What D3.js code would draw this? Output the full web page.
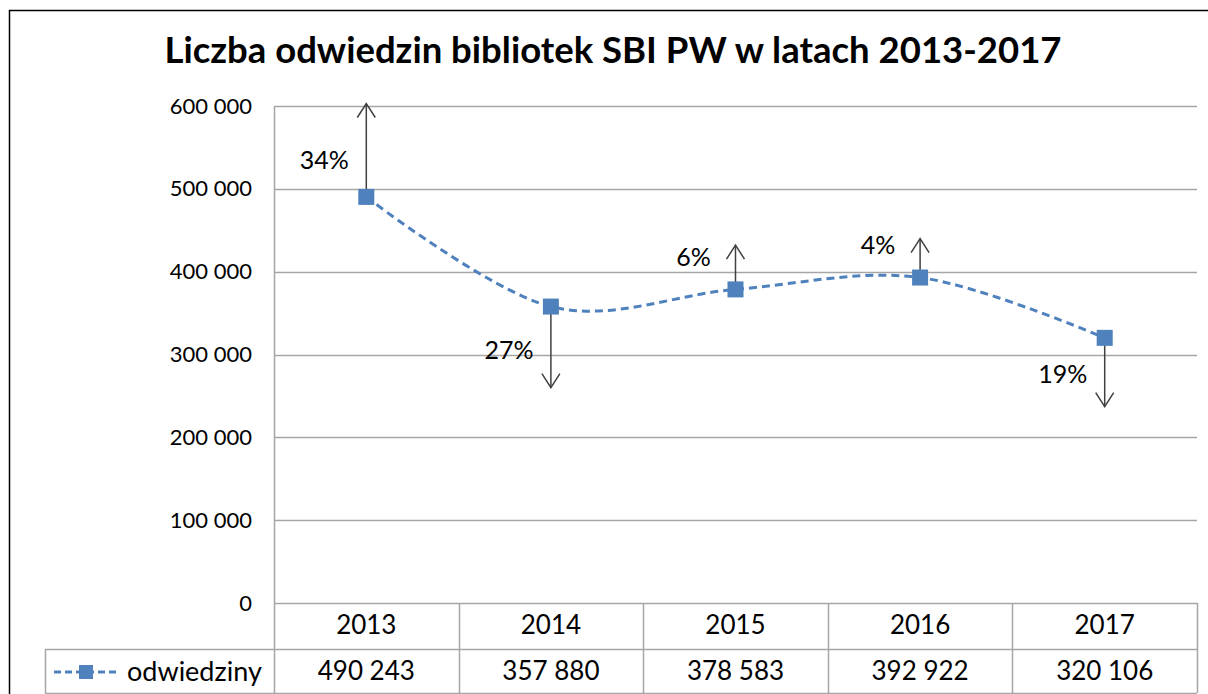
<!DOCTYPE html>
<html>
<head>
<meta charset="utf-8">
<script src="https://cdn.jsdelivr.net/npm/d3@7"></script>
<style>
  html, body { margin: 0; padding: 0; background: #fff; }
  svg { display: block; }
  text { font-family: Lato, "Open Sans", sans-serif; fill: #000; }
</style>
</head>
<body>
<svg id="chart" width="1208" height="694"></svg>
<script>
// ---- data ----
const title = "Liczba odwiedzin bibliotek SBI PW w latach 2013-2017";
const seriesName = "odwiedziny";
const years = ["2013", "2014", "2015", "2016", "2017"];
const visits = [490243, 357880, 378583, 392922, 320106];
const changeLabels = ["34%", "27%", "6%", "4%", "19%"];
const arrowEnds = [603000, 260000, 432000, 440000, 237000];
const yTicks = [0, 100000, 200000, 300000, 400000, 500000, 600000];

// ---- layout ----
const W = 1208, H = 694;
const plot = { left: 274, right: 1197, top: 106, bottom: 603 };
const table = { left: 45, row1: 649, bottom: 693 };
const blue = "#4F81BD", grid = "#A6A6A6", arrowCol = "#404040";
const labelNudge = [10, 3, -10, -13, 2];

const svg = d3.select("#chart");
const fmt = d3.formatLocale({ decimal: ",", thousands: "\u00a0", grouping: [3], currency: ["", ""] }).format(",d");

// outer frame
svg.append("rect").attr("x", 9.5).attr("y", 10.5).attr("width", 1220).attr("height", 720)
  .attr("fill", "none").attr("stroke", "#000").attr("stroke-width", 1.5);

// title
svg.append("text").attr("x", 613).attr("y", 63).attr("text-anchor", "middle")
  .attr("font-size", 36.5).attr("font-weight", "bold").text(title);

const x = d3.scaleBand().domain(years).range([plot.left, plot.right]).padding(0);
const y = d3.scaleLinear().domain([0, 600000]).range([plot.bottom, plot.top]);
const cx = d => x(d) + x.bandwidth() / 2;

// gridlines
svg.append("g").selectAll("line").data(yTicks).join("line")
  .attr("x1", plot.left).attr("x2", plot.right)
  .attr("y1", d => Math.round(y(d)) + 0.5).attr("y2", d => Math.round(y(d)) + 0.5)
  .attr("stroke", grid).attr("stroke-width", 1.5);

// y axis via d3.axisLeft (labels only)
const yAxis = svg.append("g").attr("transform", `translate(${plot.left},0)`)
  .call(d3.axisLeft(y).tickValues(yTicks).tickFormat(d => fmt(d)).tickSize(0).tickPadding(22));
yAxis.select(".domain").remove();
yAxis.selectAll("text").attr("font-size", 22).attr("font-family", "Lato, sans-serif").attr("fill", "#000");

// vertical axis line (through table)
svg.append("line").attr("x1", plot.left + 0.5).attr("x2", plot.left + 0.5)
  .attr("y1", plot.top).attr("y2", table.bottom).attr("stroke", grid).attr("stroke-width", 1.5);

// data table
const tg = svg.append("g");
const bounds = years.map(d => x(d)).concat([plot.right]);
tg.selectAll("line.v").data(bounds.slice(1)).join("line")
  .attr("x1", d => Math.round(d) + 0.5).attr("x2", d => Math.round(d) + 0.5)
  .attr("y1", plot.bottom).attr("y2", table.bottom).attr("stroke", grid).attr("stroke-width", 1.5);
tg.append("line").attr("x1", table.left + 0.5).attr("x2", table.left + 0.5)
  .attr("y1", table.row1).attr("y2", table.bottom).attr("stroke", grid).attr("stroke-width", 1.5);
[table.row1, table.bottom].forEach(yy => {
  tg.append("line").attr("x1", table.left).attr("x2", plot.right)
    .attr("y1", yy + 0.5).attr("y2", yy + 0.5).attr("stroke", grid).attr("stroke-width", 1.5);
});
tg.selectAll("text.yr").data(years).join("text").attr("class", "yr")
  .attr("x", d => cx(d)).attr("y", 634).attr("text-anchor", "middle").attr("font-size", 26).text(d => d);
tg.selectAll("text.val").data(visits).join("text").attr("class", "val")
  .attr("x", (d, i) => cx(years[i])).attr("y", 680).attr("text-anchor", "middle").attr("font-size", 26).text(d => fmt(d));

// legend key in table
tg.append("line").attr("x1", 54).attr("x2", 117).attr("y1", 672).attr("y2", 672)
  .attr("stroke", blue).attr("stroke-width", 3).attr("stroke-dasharray", "7,4");
tg.append("rect").attr("x", 79).attr("y", 665).attr("width", 14).attr("height", 14).attr("fill", blue);
tg.append("text").attr("x", 127).attr("y", 681).attr("font-size", 27).text(seriesName);

// arrows (error-bar style)
const ag = svg.append("g").attr("stroke", arrowCol).attr("stroke-width", 1.5).attr("fill", "none");
years.forEach((yr, i) => {
  const px = cx(yr), y0 = y(visits[i]), y1 = y(arrowEnds[i]);
  const dir = y1 < y0 ? 1 : -1;
  ag.append("line").attr("x1", px).attr("x2", px).attr("y1", y0).attr("y2", y1);
  ag.append("path").attr("d", `M${px - 9},${y1 + dir * 14}L${px},${y1}L${px + 9},${y1 + dir * 14}`);
});

// series line (smoothed, dashed)
const line = d3.line().x((d, i) => cx(years[i])).y(d => y(d)).curve(d3.curveCatmullRom.alpha(0));
svg.append("path").datum(visits).attr("d", line).attr("fill", "none")
  .attr("stroke", blue).attr("stroke-width", 3).attr("stroke-dasharray", "8,5");

// markers
svg.append("g").selectAll("rect").data(visits).join("rect")
  .attr("x", (d, i) => cx(years[i]) - 8).attr("y", d => y(d) - 8)
  .attr("width", 16).attr("height", 16).attr("fill", blue);

// change labels
svg.append("g").selectAll("text").data(changeLabels).join("text")
  .attr("x", (d, i) => cx(years[i]) - 42)
  .attr("y", (d, i) => (y(visits[i]) + y(arrowEnds[i])) / 2 + labelNudge[i])
  .attr("dy", "0.35em").attr("text-anchor", "middle").attr("font-size", 25).text(d => d);
</script>
</body>
</html>
